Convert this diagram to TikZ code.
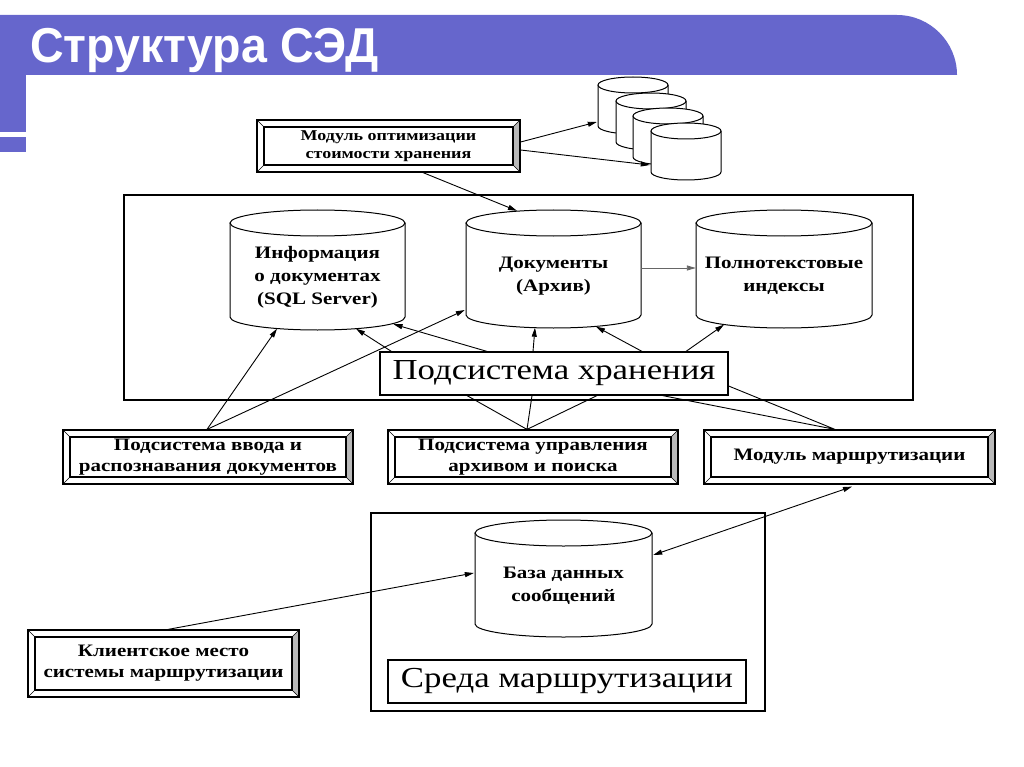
\documentclass[tikz,border=0pt]{standalone}
\usepackage{fontspec}
\setmainfont{Liberation Serif}
\newfontfamily\headfont{Liberation Sans}[FakeStretch=0.95]
\newfontfamily\boxfont{Liberation Serif}[FakeStretch=1.2]
\usetikzlibrary{arrows.meta,calc}

\definecolor{slideblue}{RGB}{102,102,204}

% cylinder: name, left, top, right, bottom, ellipse radius, text
\newcommand\drum[7]{%
  \pgfmathsetmacro\drumcx{(#2+#4)/2}%
  \pgfmathsetmacro\drumcy{(#3+#5)/2}%
  \pgfmathsetmacro\drumrx{(#4-#2)/2}%
  \pgfmathsetmacro\drumw{#4-#2}%
  \pgfmathsetmacro\drumh{#5-#3}%
  \pgfmathsetmacro\drumkx{0.5523*\drumrx}%
  \pgfmathsetmacro\drumky{0.5523*#6}%
  \filldraw[drumline] (#2,#3+#6) -- (#2,#5-#6)
     .. controls (#2,#5-#6+\drumky) and (\drumcx-\drumkx,#5) .. (\drumcx,#5)
     .. controls (\drumcx+\drumkx,#5) and (#4,#5-#6+\drumky) .. (#4,#5-#6)
     -- (#4,#3+#6);
  \filldraw[drumline] (\drumcx,#3+#6) ellipse [x radius=\drumrx, y radius=#6];
  \node[drumnode, minimum width=\drumw pt, minimum height=\drumh pt,
        label={[drumtext]center:{#7}}] (#1) at (\drumcx,\drumcy) {};
}

\tikzset{
  drumline/.style={draw=black, fill=white, line width=1pt},
  drumnode/.style={inner sep=0pt},
  drumtext/.style={align=center, inner sep=0pt, yshift=-7pt,
    font=\boxfont\bfseries\fontsize{17.5}{23}\selectfont},
  panel/.style={draw, line width=1.2pt, fill=white, align=center, inner sep=0pt,
    font=\boxfont\bfseries\fontsize{17.5}{21}\selectfont,
    path picture={
      \fill[gray!55] ([shift={(-7pt,-7pt)}]path picture bounding box.north east)
        -- (path picture bounding box.north east) -- (path picture bounding box.south east)
        -- ([shift={(-7pt,7pt)}]path picture bounding box.south east) -- cycle;
      \draw[line width=.6pt] (path picture bounding box.north west) -- ++(7pt,-7pt)
        (path picture bounding box.south west) -- ++(7pt,7pt)
        (path picture bounding box.north east) -- ++(-7pt,-7pt)
        (path picture bounding box.south east) -- ++(-7pt,7pt);
      \draw[line width=1.8pt] ([shift={(7pt,-7pt)}]path picture bounding box.north west)
        rectangle ([shift={(-7pt,7pt)}]path picture bounding box.south east);
    }},
  caption/.style={draw, line width=1.2pt, fill=white, inner sep=0pt,
    font=\boxfont\fontsize{29}{29}\selectfont},
  frame/.style={draw, line width=1.3pt, inner sep=0pt},
  feed/.style={-{Triangle[length=9pt,width=5pt]}, line width=.9pt},
  wire/.style={line width=.9pt},
}

\begin{document}
\begin{tikzpicture}[x=1pt,y=-1pt]
  \useasboundingbox (0,0) rectangle (1024,767);

  % title bar
  \fill[slideblue] (0,15) -- (897,15) .. controls (930,15) and (957,42) .. (957,75) -- (0,75) -- cycle;
  \fill[slideblue] (0,75) rectangle (26,132);
  \fill[slideblue] (0,137) rectangle (26,152);
  \node[anchor=base west, inner sep=0pt, text=white,
        font=\headfont\bfseries\fontsize{49}{49}\selectfont] (title) at (30,63) {Структура СЭД};

  % frames
  \node[frame, minimum width=789, minimum height=205] (storage) at (518.5,297.5) {};
  \node[frame, minimum width=394, minimum height=198] (route) at (568,612) {};

  % disks
  \drum{disk1}{598}{77}{668}{134}{8}{}
  \drum{disk2}{616}{93}{686}{150}{8}{}
  \drum{disk3}{633}{108}{703}{165}{8}{}
  \drum{disk4}{651}{123}{721}{180}{8}{}

  % databases
  \drum{info}{230}{210}{405}{330}{13}{Информация\\о документах\\(SQL Server)}
  \drum{docs}{466}{210}{641}{328}{13}{Документы\\(Архив)}
  \drum{ft}{696}{210}{872}{328}{13}{Полнотекстовые\\индексы}
  \drum{msg}{475}{520}{652}{637}{13}{База данных\\сообщений}

  % modules
  \node[panel, minimum width=263, minimum height=52,
        font=\boxfont\bfseries\fontsize{15}{18}\selectfont] (opt) at (388.5,146)
        {Модуль оптимизации\\стоимости хранения};
  \node[panel, minimum width=290, minimum height=54] (vvod) at (208,457)
        {Подсистема ввода и\\распознавания документов};
  \node[panel, minimum width=290, minimum height=54] (upr) at (533,457)
        {Подсистема управления\\архивом и поиска};
  \node[panel, minimum width=291, minimum height=54] (marsh) at (849.5,457)
        {Модуль маршрутизации};
  \node[panel, minimum width=271, minimum height=67] (client) at (163.5,663.5)
        {Клиентское место\\системы маршрутизации};

  \node[caption, minimum width=348, minimum height=43] (store) at (554,373.5) {Подсистема хранения};
  \node[caption, minimum width=358, minimum height=43] (sreda) at (567,681.5) {Среда маршрутизации};

  % connectors
  \draw[feed] ($(opt.east)+(0,-4)$) -- ($(disk1.west)+(-1,16.5)$);
  \draw[feed] ($(opt.east)+(0,4)$) -- ($(disk4.west)+(-1,13.5)$);
  \draw[feed] ($(opt.south)+(34.5,0)$) -- ($(docs.north)+(-36.5,1)$);

  \draw[feed] ($(vvod.north)+(-1,0)$) -- ($(info.south)+(-40.5,-1.5)$);
  \draw[feed] ($(vvod.north)+(-1,0)$) -- ($(docs.west)+(-1,41)$);

  \draw[feed] ($(store.north west)+(12,0)$) -- ($(info.south)+(38.5,-1.5)$);
  \draw[feed] ($(store.north)+(-67,0)$) -- ($(info.south)+(76,-6)$);
  \draw[feed] ($(store.north)+(-21,0)$) -- ($(docs.south)+(-18.5,-0.5)$);
  \draw[feed] ($(store.north)+(88,0)$) -- ($(docs.south)+(42.5,-1.6)$);
  \draw[feed] ($(store.north)+(132,0)$) -- ($(ft.south)+(-60,-3.5)$);
  \draw[feed, black!60] ($(docs.east)+(0,-1)$) -- ($(ft.west)+(0,-1)$);

  \draw[wire] ($(upr.north)+(-6,0)$) -- ($(store.south)+(-87,0)$)
              ($(upr.north)+(-6,0)$) -- ($(store.south)+(-22,0)$)
              ($(upr.north)+(-6,0)$) -- ($(store.south)+(43,0)$);
  \draw[wire] ($(marsh.north)+(-14.5,0)$) -- ($(store.east)+(0,12.5)$)
              ($(marsh.north)+(-14.5,0)$) -- ($(store.south east)+(-66,0)$);

  \draw[feed, {Triangle[length=9pt,width=5pt]}-{Triangle[length=9pt,width=5pt]}]
        ($(marsh.south)+(2.5,2)$) -- ($(msg.east)+(1,-23.5)$);
  \draw[feed] ($(client.north)+(4.5,0)$) -- ($(msg.west)+(-1,-5.5)$);
\end{tikzpicture}
\end{document}
